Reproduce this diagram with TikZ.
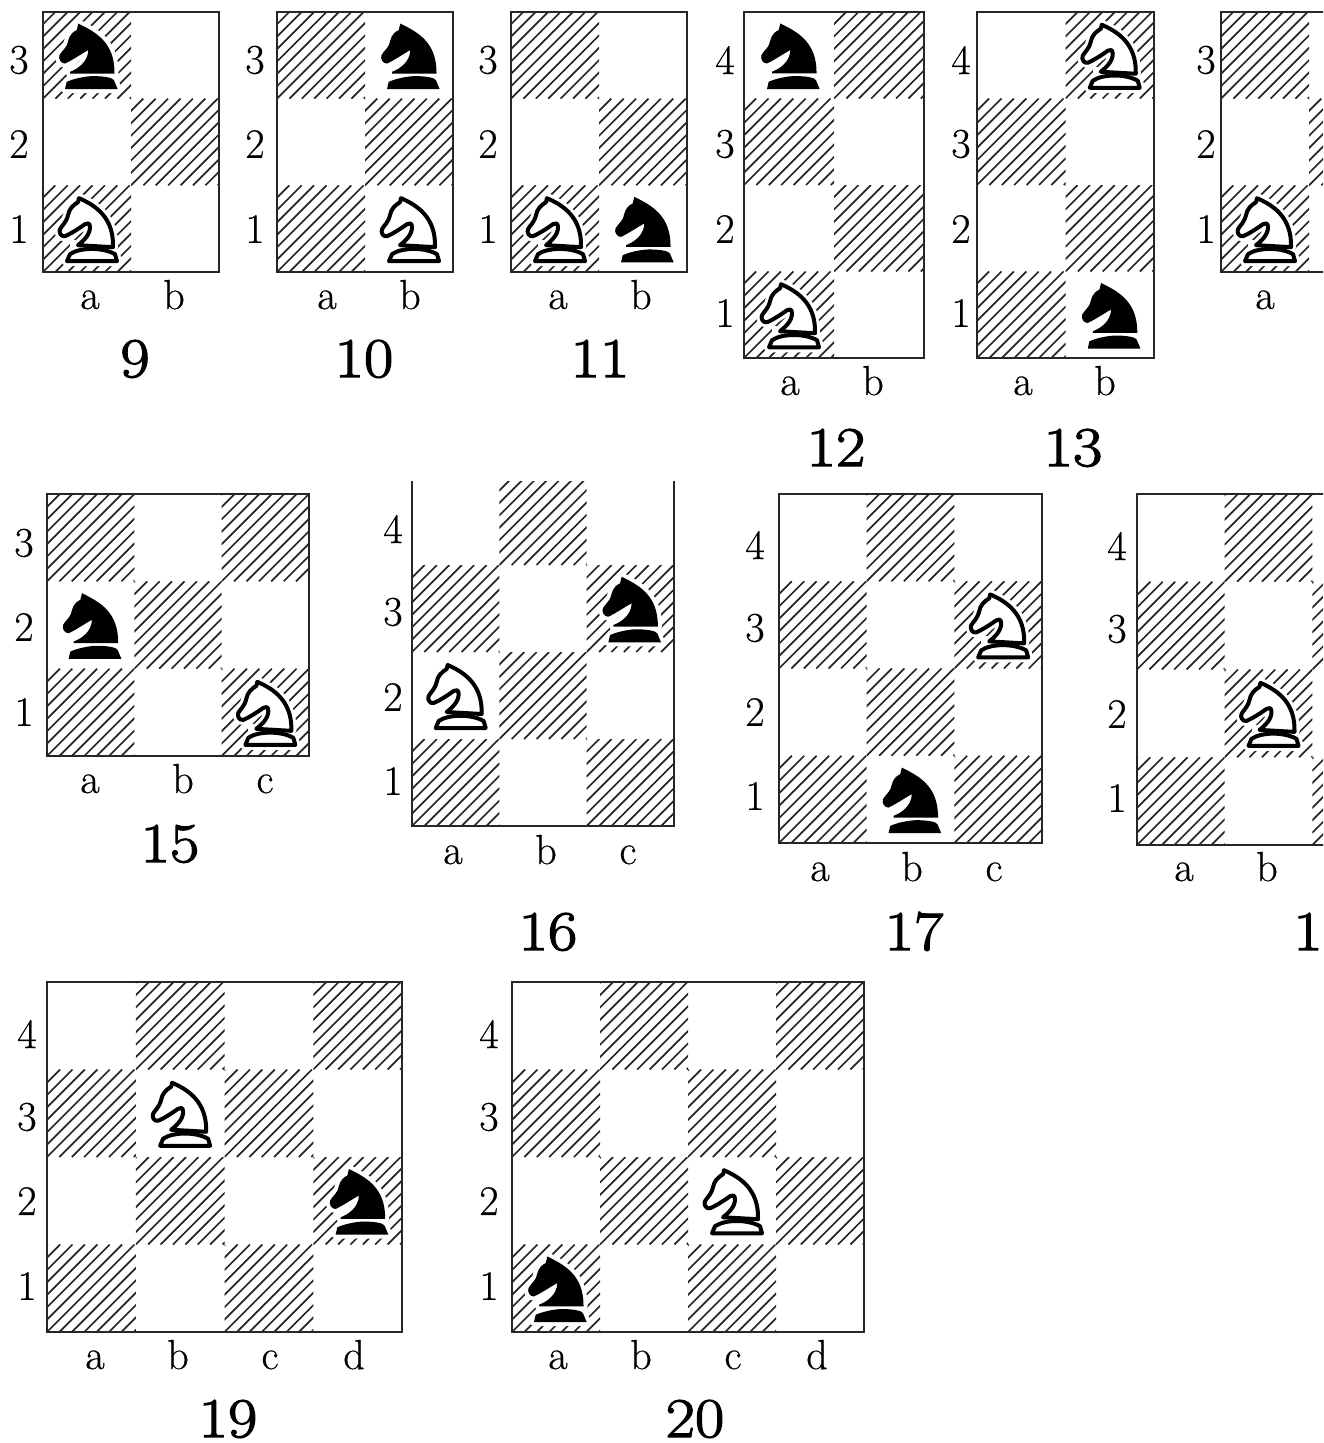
\documentclass[tikz,border=0pt]{standalone}
\usepackage{fontspec}
\newfontfamily\labfont[FakeBold=0.5]{Latin Modern Roman}
\newfontfamily\capfont[FakeBold=2.2,FakeStretch=1.14]{Latin Modern Roman}
\tikzset{
  hatchline/.style={line width=1.7pt,black!85},
  frame/.style={draw=black!85,line width=1.9pt},
  ranklab/.style={font=\labfont\fontsize{42}{42}\selectfont,inner sep=0pt,anchor=center},
  filelab/.style={font=\labfont\fontsize{42}{42}\selectfont,inner sep=0pt,anchor=base},
  caplab/.style={font=\capfont\fontsize{56}{56}\selectfont,inner sep=0pt,anchor=base},
}
\def\horseB{(33.3,11.7) .. controls (50,20) and (70,30) .. (69.5,61.7) -- (25,61.7) -- (25,60) .. controls (33,57) and (43,50) .. (43.3,38.3) .. controls (38,41) and (28,48) .. (20,51.7) .. controls (16,52) and (13,47) .. (14.5,43.3) .. controls (17,39) and (20,37) .. (22,33) .. controls (24,27) and (24,22) .. (31.7,18.3) -- cycle}
\def\baseB{(20,77.3) -- (21.7,70) .. controls (32,65.5) and (45,64) .. (50,64.3) .. controls (60,64.5) and (68,66) .. (69,68.5) -- (72.7,77.3) -- cycle}
\def\horseW{(34,13) .. controls (50,20) and (69,32) .. (68,62) -- (33,60) .. controls (38,56) and (45,50) .. (45,42) .. controls (45,37) and (42,38) .. (40,39) .. controls (33,44) and (25,49) .. (20,51) .. controls (16,52) and (13.5,47) .. (15,44) .. controls (17,40) and (21,38) .. (23,30) .. controls (24,24) and (28,20) .. (33,17) -- cycle}
\def\baseW{(22,76) -- (25,69) .. controls (35,62) and (58,62) .. (70,69) -- (72,76) -- cycle}
\newcommand{\placepiece}[2]{\pgfmathsetmacro{\px}{\bx+(#1-0.5)*\cw-42}\pgfmathsetmacro{\py}{\by-(#2-0.5)*\ch-43.5}}
\newcommand{\knightB}[2]{\placepiece{#1}{#2}
  \begin{scope}[shift={(\px,\py)}]
    \draw[white,fill=white,line width=8pt,line join=round] \horseB;
    \draw[white,fill=white,line width=8pt,line join=round] \baseB;
    \fill[white] (25,55) rectangle (70,70);
    \fill[black] \horseB;
    \fill[black] \baseB;
  \end{scope}}
\newcommand{\knightW}[2]{\placepiece{#1}{#2}
  \begin{scope}[shift={(\px,\py)}]
    \draw[white,fill=white,line width=10pt,line join=round] \horseW;
    \draw[white,fill=white,line width=10pt,line join=round] \baseW;
    \fill[white] (25,55) rectangle (70,70);
    \draw[black,fill=white,line width=4pt,line join=round] \horseW;
    \draw[black,fill=white,line width=4pt,line join=round] \baseW;
  \end{scope}}
% \board{left}{bottom}{right}{top}{cols}{rows}
\newcommand{\board}[6]{%
  \pgfmathsetmacro{\bx}{#1}\pgfmathsetmacro{\by}{#2}%
  \pgfmathsetmacro{\cw}{(#3-#1)/#5}\pgfmathsetmacro{\ch}{(#2-#4)/#6}%
  \foreach \c in {1,...,#5}{\foreach \r in {1,...,#6}{%
    \pgfmathparse{int(mod(\c+\r,2))}%
    \ifnum\pgfmathresult=0
      \begin{scope}
        \pgfmathsetmacro{\qx}{\bx+(\c-1)*\cw}\pgfmathsetmacro{\qy}{\by-\r*\ch}
        \clip (\qx,\qy) rectangle ++(\cw,\ch);
        \foreach \k in {-8,...,8}{
          \draw[hatchline] (\qx+\k*12.4,\qy+\ch) -- ++(\ch,-\ch);
        }
      \end{scope}
    \fi
  }}}
\newcommand{\frameit}[4]{\draw[frame] (#1,#2) rectangle (#3,#4);}
\newcommand{\lab}[3]{\node[ranklab] at (#1,#2) {#3};}
\newcommand{\flab}[3]{\node[filelab] at (#1,#2) {#3};}
\newcommand{\captext}[3]{\node[caplab] at (#1,#2) {#3};}
\begin{document}
\begin{tikzpicture}[x=1pt,y=-1pt]
\useasboundingbox (0,0) rectangle (1323,1443);
\clip (0,0) rectangle (1323,1443);
% 9
\board{43}{272}{219}{12}{2}{3}\knightB{1}{3}\knightW{1}{1}\frameit{43}{12}{219}{272}
\lab{19}{60}{3}\lab{19}{144}{2}\lab{19}{229}{1}
\flab{90}{309}{a}\flab{174}{309}{b}\captext{135}{377}{9}
% 10
\board{277}{272}{453}{12}{2}{3}\knightB{2}{3}\knightW{2}{1}\frameit{277}{12}{453}{272}
\lab{255}{60}{3}\lab{255}{144}{2}\lab{255}{229}{1}
\flab{327}{309}{a}\flab{410}{309}{b}\captext{364}{377}{10}
% 11
\board{511}{272}{687}{12}{2}{3}\knightW{1}{1}\knightB{2}{1}\frameit{511}{12}{687}{272}
\lab{488}{60}{3}\lab{488}{144}{2}\lab{488}{229}{1}
\flab{558}{309}{a}\flab{641}{309}{b}\captext{600}{377}{11}
% 12
\board{744}{358}{924}{12}{2}{4}\knightB{1}{4}\knightW{1}{1}\frameit{744}{12}{924}{358}
\lab{725}{60}{4}\lab{725}{144}{3}\lab{725}{229}{2}\lab{725}{313}{1}
\flab{790}{395}{a}\flab{873}{395}{b}\captext{836}{466}{12}
% 13
\board{977}{358}{1154}{12}{2}{4}\knightW{2}{4}\knightB{2}{1}\frameit{977}{12}{1154}{358}
\lab{961}{60}{4}\lab{961}{144}{3}\lab{961}{229}{2}\lab{961}{313}{1}
\flab{1023}{395}{a}\flab{1105}{395}{b}\captext{1073}{466}{13}
% 14
\board{1221}{272}{1397}{12}{2}{3}\knightW{1}{1}\frameit{1221}{12}{1397}{272}
\lab{1206}{60}{3}\lab{1206}{144}{2}\lab{1206}{229}{1}
\flab{1265}{309}{a}
% 15
\board{47}{756}{309}{494}{3}{3}\knightB{1}{2}\knightW{3}{1}\frameit{47}{494}{309}{756}
\lab{24}{543}{3}\lab{24}{627}{2}\lab{24}{712}{1}
\flab{90}{793}{a}\flab{183}{793}{b}\flab{265}{793}{c}\captext{170}{862}{15}
% 16
\begin{scope}
\clip (370,481) rectangle (700,900);
\board{412}{826}{674}{478}{3}{4}\knightB{3}{3}\knightW{1}{2}\frameit{412}{478}{674}{826}
\end{scope}
\lab{393}{529}{4}\lab{393}{612}{3}\lab{393}{697}{2}\lab{393}{781}{1}
\flab{453}{864}{a}\flab{546}{864}{b}\flab{628}{864}{c}\captext{548}{950}{16}
% 17
\board{779}{843}{1042}{494}{3}{4}\knightW{3}{3}\knightB{2}{1}\frameit{779}{494}{1042}{843}
\lab{755}{545}{4}\lab{755}{628}{3}\lab{755}{712}{2}\lab{755}{796}{1}
\flab{820}{881}{a}\flab{912}{881}{b}\flab{994}{881}{c}\captext{914}{950}{17}
% 18
\board{1137}{845}{1400}{494}{3}{4}\knightW{2}{2}\frameit{1137}{494}{1400}{845}
\lab{1117}{546}{4}\lab{1117}{629}{3}\lab{1117}{714}{2}\lab{1117}{798}{1}
\flab{1184}{881}{a}\flab{1267}{881}{b}\captext{1308}{950}{1}
% 19
\board{47}{1332}{402}{982}{4}{4}\knightW{2}{3}\knightB{4}{2}\frameit{47}{982}{402}{1332}
\lab{27}{1034}{4}\lab{27}{1117}{3}\lab{27}{1201}{2}\lab{27}{1286}{1}
\flab{95}{1369}{a}\flab{178}{1369}{b}\flab{270}{1369}{c}\flab{354}{1369}{d}\captext{228}{1437}{19}
% 20
\board{512}{1332}{864}{982}{4}{4}\knightW{3}{2}\knightB{1}{1}\frameit{512}{982}{864}{1332}
\lab{489}{1034}{4}\lab{489}{1117}{3}\lab{489}{1201}{2}\lab{489}{1286}{1}
\flab{558}{1369}{a}\flab{641}{1369}{b}\flab{733}{1369}{c}\flab{817}{1369}{d}\captext{695}{1437}{20}
\end{tikzpicture}
\end{document}
